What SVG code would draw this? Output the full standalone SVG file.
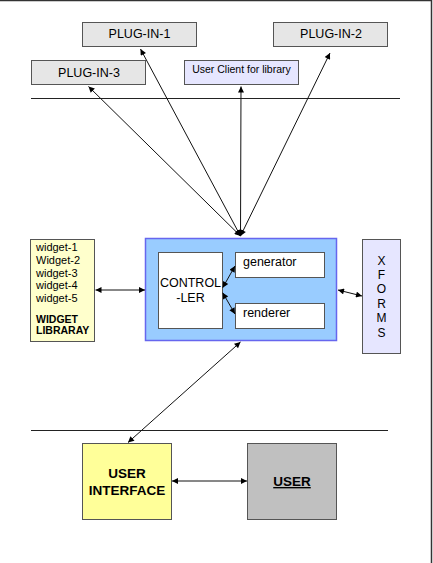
<svg xmlns="http://www.w3.org/2000/svg" width="433" height="563" viewBox="0 0 433 563">
<defs>
<marker id="ah" viewBox="0 0 10 10" refX="10" refY="5" markerWidth="8" markerHeight="6" markerUnits="userSpaceOnUse" orient="auto-start-reverse">
<path d="M0,0 L10,5 L0,10 z" fill="#000"/>
</marker>
<style>
.box{stroke:#555;stroke-width:1}
.t{font-family:"Liberation Sans",Arial,sans-serif;fill:#000}
.c{stroke:#111;stroke-width:1;fill:none;marker-start:url(#ah);marker-end:url(#ah)}
.sep{stroke:#222;stroke-width:1}
</style>
</defs>
<rect width="433" height="563" fill="#fff"/>
<path d="M0,0.5 H431.5 V563" fill="none" stroke="#333" stroke-width="1.5"/>
<g id="separators">
<line class="sep" x1="31" y1="98.5" x2="400" y2="98.5"/>
<line class="sep" x1="31" y1="430.5" x2="388" y2="430.5"/>
</g>
<g id="plugin1"><rect class="box" x="82.5" y="22.5" width="114" height="24" fill="#e6e6e6"/><text class="t" x="139.5" y="37.5" font-size="12.5" text-anchor="middle">PLUG-IN-1</text></g>
<g id="plugin2"><rect class="box" x="273.5" y="22.5" width="114" height="24" fill="#e6e6e6"/><text class="t" x="331" y="37.5" font-size="12.5" text-anchor="middle">PLUG-IN-2</text></g>
<g id="plugin3"><rect class="box" x="31.5" y="60.5" width="114" height="24" fill="#e6e6e6"/><text class="t" x="89" y="76.5" font-size="12.5" text-anchor="middle">PLUG-IN-3</text></g>
<g id="userclient"><rect class="box" x="184.5" y="60.5" width="114" height="24" fill="#e6e6ff"/><text class="t" x="241.5" y="72.5" font-size="10.5" text-anchor="middle">User Client for library</text></g>
<g id="widgetlib"><rect class="box" x="30.5" y="239.5" width="64" height="102" fill="#ffffcc"/>
<text class="t" x="36" font-size="11"><tspan x="36" y="251">widget-1</tspan><tspan x="36" y="264">Widget-2</tspan><tspan x="36" y="276.5">widget-3</tspan><tspan x="36" y="289">widget-4</tspan><tspan x="36" y="301.5">widget-5</tspan></text>
<text class="t" x="36" font-size="10.5" font-weight="bold"><tspan x="36" y="322.5">WIDGET</tspan><tspan x="36" y="333.5">LIBRARAY</tspan></text></g>
<g id="core"><rect x="145.5" y="238.5" width="191" height="102" fill="#99ccff" stroke="#6666ee" stroke-width="1.5"/></g>
<g id="controller"><rect class="box" x="158.5" y="252.5" width="64" height="76" fill="#fff"/><text class="t" font-size="12.5" text-anchor="middle"><tspan x="190.5" y="287">CONTROL</tspan><tspan x="190.5" y="302">-LER</tspan></text></g>
<g id="generator"><rect class="box" x="235.5" y="252.5" width="89" height="25" fill="#fff"/><text class="t" x="243" y="265.5" font-size="12.5">generator</text></g>
<g id="renderer"><rect class="box" x="235.5" y="303.5" width="89" height="25" fill="#fff"/><text class="t" x="243" y="316.5" font-size="12.5">renderer</text></g>
<g id="xforms"><rect class="box" x="362.5" y="239.5" width="38" height="114" fill="#e6e6ff"/><text class="t" font-size="12" text-anchor="middle"><tspan x="381.5" y="264.7">X</tspan><tspan x="381.5" y="278.7">F</tspan><tspan x="381.5" y="293.3">O</tspan><tspan x="381.5" y="307.5">R</tspan><tspan x="381.5" y="322">M</tspan><tspan x="381.5" y="336.7">S</tspan></text></g>
<g id="userinterface"><rect class="box" x="82.5" y="443.5" width="89" height="76" fill="#ffff99"/><text class="t" font-size="13.5" font-weight="bold" text-anchor="middle"><tspan x="127" y="477.5">USER</tspan><tspan x="127" y="494.5">INTERFACE</tspan></text></g>
<g id="user"><rect class="box" x="247.5" y="443.5" width="89" height="76" fill="#c0c0c0"/><text class="t" x="292" y="486" font-size="13.5" font-weight="bold" text-anchor="middle" text-decoration="underline">USER</text></g>
<g id="connectors">
<line class="c" x1="240.5" y1="236" x2="88.5" y2="86.5"/>
<line class="c" x1="240.5" y1="236" x2="140.5" y2="49"/>
<line class="c" x1="240.5" y1="236" x2="241" y2="86.5"/>
<line class="c" x1="240.5" y1="236" x2="330" y2="53"/>
<line class="c" x1="95.5" y1="290" x2="145" y2="290"/>
<line class="c" x1="338" y1="290" x2="362" y2="296"/>
<line class="c" x1="222.7" y1="287.7" x2="235" y2="266"/>
<line class="c" x1="222.7" y1="292.7" x2="235" y2="314"/>
<line class="c" x1="240.5" y1="342" x2="128" y2="442.5"/>
<line class="c" x1="172" y1="481" x2="247" y2="481"/>
</g>
</svg>
